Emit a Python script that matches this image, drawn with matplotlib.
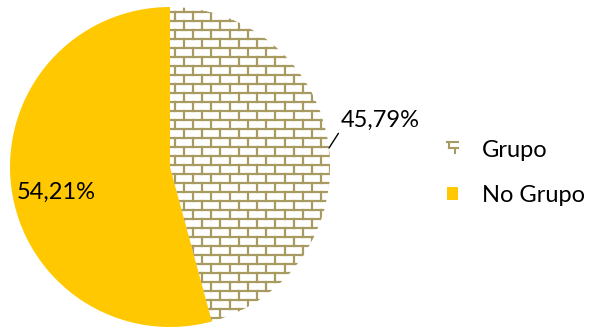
import numpy as np
import matplotlib
matplotlib.use("Agg")
import matplotlib.pyplot as plt
from matplotlib.legend_handler import HandlerBase
from matplotlib.lines import Line2D
from matplotlib.patches import Rectangle

plt.rcParams['font.family'] = ['Lato', 'DejaVu Sans']

labels = ['Grupo', 'No Grupo']
shares = [45.79, 54.21]

BRICK = '#A89B62'
YELLOW = '#FFC800'


def fmt_pct(v):
    return f"{v:.2f}".replace('.', ',') + '%'


class BrickHandler(HandlerBase):
    """Small brick fragment used as the legend key for the hatched slice."""
    def create_artists(self, legend, orig_handle, xd, yd, w, h, fontsize, trans):
        x0, y0 = -xd, -yd
        kw = dict(color=BRICK, lw=1.5, transform=trans)
        return [
            Line2D([x0, x0 + w], [y0 + h, y0 + h], **kw),
            Line2D([x0 + 0.15 * w, x0 + w], [y0 + 0.55 * h, y0 + 0.55 * h], **kw),
            Line2D([x0 + 0.15 * w, x0 + 0.15 * w], [y0 + 0.55 * h, y0 + h], **kw),
            Line2D([x0 + 0.75 * w, x0 + 0.75 * w], [y0 + 0.1 * h, y0 + 0.55 * h], **kw),
        ]


fig = plt.figure(figsize=(5.93, 3.28), dpi=100)
ax = fig.add_axes([10 / 593, 1 / 328, 320 / 593, 320 / 328])

wedges, _ = ax.pie(shares, colors=['white', YELLOW], startangle=90,
                   counterclock=False, radius=1,
                   wedgeprops=dict(linewidth=0))

# brick pattern inside the "Grupo" slice
row_h = 9 / 160
brick_w = 18.3 / 160
rows = np.arange(-1.0, 1.0 + row_h, row_h)
for i, y in enumerate(rows):
    ln, = ax.plot([-1.1, 1.1], [y, y], color=BRICK, lw=1.6, zorder=3)
    ln.set_clip_path(wedges[0])
    offset = 0 if i % 2 == 0 else brick_w / 2
    for x in np.arange(-1.0 + offset, 1.1, brick_w):
        vl, = ax.plot([x, x], [y, y + row_h], color=BRICK, lw=1.6, zorder=3)
        vl.set_clip_path(wedges[0])

# value labels
ax.annotate(fmt_pct(shares[0]), xy=(0.994, 0.119), xytext=(1.07, 0.29),
            fontsize=17, va='center', ha='left',
            arrowprops=dict(arrowstyle='-', color='black', lw=1,
                            shrinkA=0, shrinkB=0,
                            relpos=(0, 0.1)))
ax.text(-0.71, -0.16, fmt_pct(shares[1]), fontsize=17, va='center', ha='center')

ax.set_xlim(-1, 1)
ax.set_ylim(-1, 1)
ax.set_aspect('equal')
ax.axis('off')

handles = [Rectangle((0, 0), 1, 1, facecolor='white'),
           Rectangle((0, 0), 1, 1, facecolor=YELLOW, edgecolor='none')]
fig.legend(handles, labels, loc='center left', bbox_to_anchor=(447 / 593, 1 - 173 / 328),
           frameon=False, fontsize=17, handlelength=0.47, handleheight=0.47,
           handletextpad=1.0, labelspacing=1.05, borderpad=0, borderaxespad=0,
           handler_map={handles[0]: BrickHandler()})

fig.savefig('out.png', dpi=100)
